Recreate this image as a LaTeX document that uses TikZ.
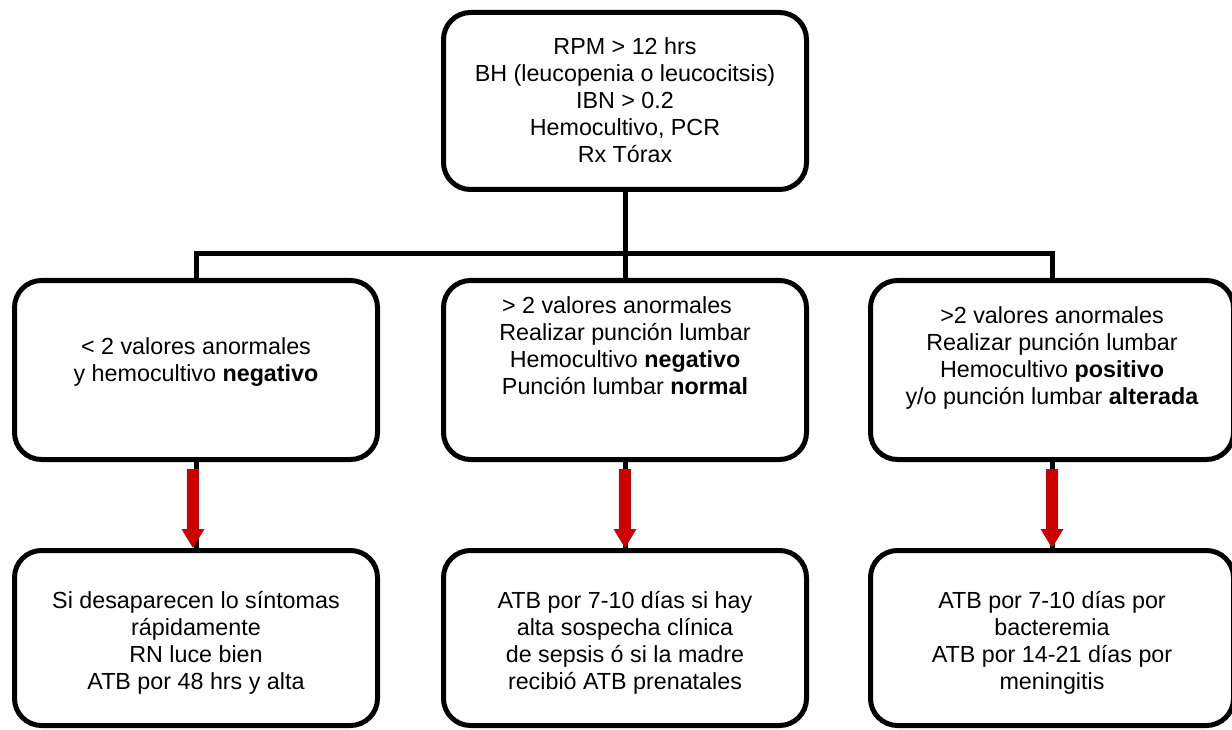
\documentclass[tikz,border=0pt]{standalone}
\usepackage{fontspec}
\setmainfont{Liberation Sans}
\usetikzlibrary{arrows.meta,calc}
\definecolor{arrred}{HTML}{CC0000}
\begin{document}
\begin{tikzpicture}[x=1pt,y=-1pt,
  box/.style={draw=black, line width=5pt, rounded corners=27pt, minimum width=363pt, inner sep=0pt, fill=white},
  txt/.style={align=center, font=\fontsize{23.3}{27}\selectfont, inner sep=0pt},
  conn/.style={draw=black, line width=5pt},
  redarr/.style={draw=arrred, line width=12pt, -{Triangle[length=19pt,width=23pt,line width=0pt]}}]
\useasboundingbox (0,0) rectangle (1232,730);
% boxes
\node[box, minimum height=177pt] (top) at (625,101) {};
\node[box, minimum height=179pt] (ml) at (196,370) {};
\node[box, minimum height=179pt] (mc) at (625,370) {};
\node[box, minimum height=179pt] (mr) at (1052,370) {};
\node[box, minimum height=175pt] (bl) at (196,638) {};
\node[box, minimum height=175pt] (bc) at (625,638) {};
\node[box, minimum height=175pt] (br) at (1052,638) {};
% texts
\node[txt] (ttop) at (625,103.6) {\strut RPM > 12 hrs\\BH (leucopenia o leucocitsis)\\IBN > 0.2\\Hemocultivo, PCR\\Rx Tórax\strut};
\node[txt] (tml) at (196,363) {\strut < 2 valores anormales\\y hemocultivo \textbf{negativo}\strut};
\node[txt] (tmc) at (625,349) {\strut > 2 valores anormales\rule{16pt}{0pt}\\Realizar punción lumbar\\Hemocultivo \textbf{negativo}\\Punción lumbar \textbf{normal}\strut};
\node[txt] (tmr) at (1052,359) {\strut >2 valores anormales\\Realizar punción lumbar\\Hemocultivo \textbf{positivo}\\y/o punción lumbar \textbf{alterada}\strut};
\node[txt] (tbl) at (196,644) {\strut Si desaparecen lo síntomas\\rápidamente\\RN luce bien\\ATB por 48 hrs y alta\strut};
\node[txt] (tbc) at (625,644) {\strut ATB por 7-10 días si hay\\alta sospecha clínica\\de sepsis ó si la madre\\recibió ATB prenatales\strut};
\node[txt] (tbr) at (1052,644) {\strut ATB por 7-10 días por\\bacteremia\\ATB por 14-21 días por\\meningitis\strut};
% tree connectors
\coordinate (bar) at (625,254);
\draw[conn] (top.south) -- (bar);
\draw[conn] (bar) -| (ml.north);
\draw[conn] (bar) -| (mr.north);
\draw[conn] (bar) -- (mc.north);
% vertical connectors
\draw[conn] (ml.south) -- (bl.north);
\draw[conn] (mc.south) -- (bc.north);
\draw[conn] (mr.south) -- (br.north);
% red arrows
\draw[redarr] ($(ml.south)+(-3,7)$) -- ($(bl.north)+(-3,0)$);
\draw[redarr] ($(mc.south)+(0,7)$) -- (bc.north);
\draw[redarr] ($(mr.south)+(0,7)$) -- (br.north);
\end{tikzpicture}
\end{document}
